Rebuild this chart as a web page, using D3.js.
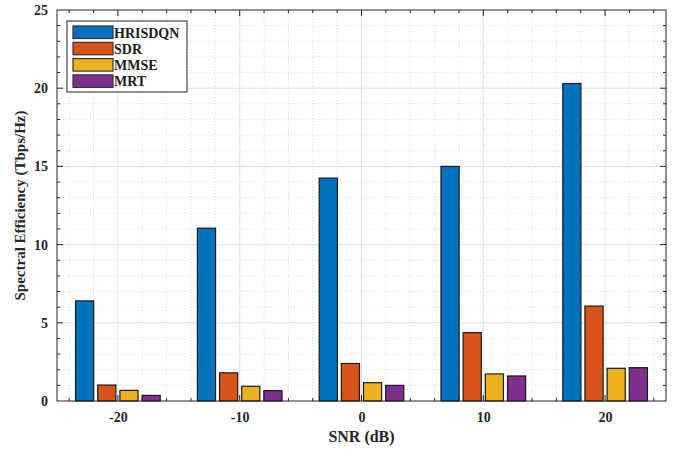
<!DOCTYPE html>
<html>
<head>
<meta charset="utf-8">
<script src="https://cdn.jsdelivr.net/npm/d3@7"></script>
<style>
  body { margin: 0; background: #fff; }
</style>
</head>
<body>
<script>
// chart values
const snrLevels = [-20, -10, 0, 10, 20];
const seriesNames = ['HRISDQN', 'SDR', 'MMSE', 'MRT'];
const hrisdqn = [6.4, 11.05, 14.25, 15.0, 20.3];
const sdr = [1.02, 1.8, 2.4, 4.37, 6.07];
const mmse = [0.68, 0.94, 1.17, 1.73, 2.09];
const mrt = [0.36, 0.66, 1.0, 1.6, 2.13];
const yTicks = [0, 5, 10, 15, 20, 25];
const seriesColors = ['#0072BD', '#D95319', '#EDB120', '#7E2F8E'];

const allSeries = [hrisdqn, sdr, mmse, mrt];

const width = 677;
const height = 450;
const margin = {top: 10, right: 11, bottom: 49, left: 57};
const serif = '"Liberation Serif", "Times New Roman", serif';

const svg = d3.select('body')
    .append('svg')
    .attr('width', width)
    .attr('height', height)
    .attr('font-family', serif)
    .attr('font-weight', 'bold');

const x = d3.scaleLinear()
    .domain([-25, 25])
    .range([margin.left, width - margin.right]);

const y = d3.scaleLinear()
    .domain([0, 25])
    .range([height - margin.bottom, margin.top]);

const plotW = width - margin.left - margin.right;
const plotH = height - margin.top - margin.bottom;

// grid: minor dotted, major solid
const grid = svg.append('g');
grid.selectAll('.vminor')
    .data(d3.range(-24, 25, 2).filter(d => d % 10 !== 0))
    .enter().append('line')
    .attr('x1', d => x(d)).attr('x2', d => x(d))
    .attr('y1', y(0)).attr('y2', y(25))
    .attr('stroke', '#d4d4d4').attr('stroke-dasharray', '1,2').attr('stroke-width', 0.8);
grid.selectAll('.hminor')
    .data(d3.range(1, 25).filter(d => d % 5 !== 0))
    .enter().append('line')
    .attr('x1', x(-25)).attr('x2', x(25))
    .attr('y1', d => y(d)).attr('y2', d => y(d))
    .attr('stroke', '#d4d4d4').attr('stroke-dasharray', '1,2').attr('stroke-width', 0.8);
grid.selectAll('.vmajor')
    .data(snrLevels)
    .enter().append('line')
    .attr('x1', d => x(d)).attr('x2', d => x(d))
    .attr('y1', y(0)).attr('y2', y(25))
    .attr('stroke', '#e3e3e3').attr('stroke-width', 1);
grid.selectAll('.hmajor')
    .data(yTicks.slice(1, -1))
    .enter().append('line')
    .attr('x1', x(-25)).attr('x2', x(25))
    .attr('y1', d => y(d)).attr('y2', d => y(d))
    .attr('stroke', '#e3e3e3').attr('stroke-width', 1);

// bars
const barW = 1.49;
const barStep = 1.82;
allSeries.forEach((vals, si) =>
{
    const offset = (si - 1.5) * barStep;
    svg.append('g')
        .selectAll('rect')
        .data(vals)
        .enter()
        .append('rect')
        .attr('x', (d, i) => x(snrLevels[i] + offset - barW / 2))
        .attr('width', x(barW) - x(0))
        .attr('y', d => y(d))
        .attr('height', d => y(0) - y(d))
        .attr('fill', seriesColors[si])
        .attr('stroke', '#1a1a1a')
        .attr('stroke-width', 1.2);
});

// axes
const axisColor = '#262626';

const xAxis = svg.append('g')
    .attr('transform', `translate(0,${y(0)})`)
    .call(d3.axisBottom(x).tickValues(snrLevels).tickFormat(d => String(d)).tickSize(0).tickPadding(11));
const yAxis = svg.append('g')
    .attr('transform', `translate(${x(-25)},0)`)
    .call(d3.axisLeft(y).tickValues(yTicks).tickFormat(d => String(d)).tickSize(0).tickPadding(9));
[xAxis, yAxis].forEach(a =>
{
    a.select('.domain').remove();
    a.attr('font-family', serif).attr('font-size', 14).attr('font-weight', 'bold');
    a.selectAll('text').attr('fill', axisColor);
});

// box
svg.append('rect')
    .attr('x', x(-25)).attr('y', y(25))
    .attr('width', plotW).attr('height', plotH)
    .attr('fill', 'none').attr('stroke', axisColor).attr('stroke-width', 1);

// inward tick marks on all four sides
const ticks = svg.append('g').attr('stroke', axisColor).attr('stroke-width', 1);
d3.range(-24, 25, 2).forEach(d =>
{
    const len = d % 10 === 0 ? 6 : 3;
    ticks.append('line').attr('x1', x(d)).attr('x2', x(d)).attr('y1', y(0)).attr('y2', y(0) - len);
    ticks.append('line').attr('x1', x(d)).attr('x2', x(d)).attr('y1', y(25)).attr('y2', y(25) + len);
});
d3.range(1, 25).forEach(d =>
{
    const len = d % 5 === 0 ? 6 : 3;
    ticks.append('line').attr('y1', y(d)).attr('y2', y(d)).attr('x1', x(-25)).attr('x2', x(-25) + len);
    ticks.append('line').attr('y1', y(d)).attr('y2', y(d)).attr('x1', x(25)).attr('x2', x(25) - len);
});

// axis titles
svg.append('text')
    .attr('x', x(0))
    .attr('y', 442)
    .attr('text-anchor', 'middle')
    .attr('fill', axisColor)
    .attr('font-size', 16)
    .text('SNR (dB)');

svg.append('text')
    .attr('transform', `translate(25,${(y(0) + y(25)) / 2}) rotate(-90)`)
    .attr('text-anchor', 'middle')
    .attr('fill', axisColor)
    .attr('font-size', 15)
    .text('Spectral Efficiency (Tbps/Hz)');

// legend
const legend = svg.append('g').attr('transform', 'translate(67,21)');
legend.append('rect')
    .attr('width', 120).attr('height', 71)
    .attr('fill', '#fff').attr('stroke', '#555').attr('stroke-width', 1.3);
seriesNames.forEach((name, i) =>
{
    const row = legend.append('g').attr('transform', `translate(6,${5 + i * 16.3})`);
    row.append('rect')
        .attr('width', 40).attr('height', 12.5)
        .attr('fill', seriesColors[i])
        .attr('stroke', '#333').attr('stroke-width', 1.2);
    row.append('text')
        .attr('x', 41).attr('y', 11.5)
        .attr('fill', '#1a1a1a')
        .attr('font-size', 14)
        .text(name);
});
</script>
</body>
</html>
